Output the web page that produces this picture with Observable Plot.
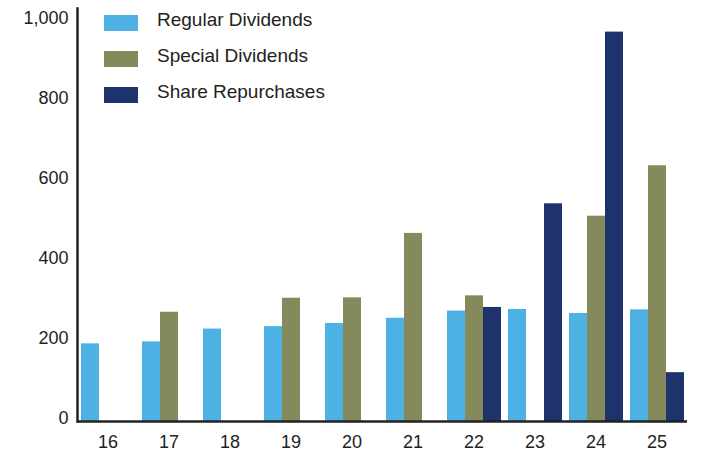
<!DOCTYPE html>
<html>
<head>
<meta charset="utf-8">
<script src="https://cdn.jsdelivr.net/npm/d3@7"></script>
<script src="https://cdn.jsdelivr.net/npm/@observablehq/plot@0.6"></script>
<style>
  html, body { margin: 0; padding: 0; background: #fff; }
  #wrap { position: relative; width: 701px; height: 454px; font-family: "Liberation Sans", Arial, sans-serif; color: #222; }
  #legend { position: absolute; left: 0; top: 0; }
  .swatch { position: absolute; width: 34px; height: 16px; }
  .ltext { position: absolute; font-size: 19px; line-height: 16px; white-space: nowrap; color: #222; }
</style>
</head>
<body>
<div id="wrap"><div id="legend"></div></div>
<script>
// ---- data ----
const years = ["16", "17", "18", "19", "20", "21", "22", "23", "24", "25"];
const series = ["Regular Dividends", "Special Dividends", "Share Repurchases"];
const colors = ["#4EB1E4", "#848A5C", "#1E326C"];
const regular = [194, 199, 231, 237, 245, 258, 276, 280, 270, 279];
const special = [null, 273, null, 308, 309, 470, 314, null, 513, 639];
const repurchases = [null, null, null, null, null, null, 285, 544, 973, 122];
const yTicks = [0, 200, 400, 600, 800, 1000];

const valuesBySeries = [regular, special, repurchases];
const rows = [];
years.forEach((year, i) => {
  series.forEach((s, j) => {
    const v = valuesBySeries[j][i];
    if (v != null) rows.push({ year, series: s, value: v });
  });
});

const chart = Plot.plot({
  width: 701,
  height: 454,
  marginLeft: 72,
  marginRight: 10,
  marginTop: 8,
  marginBottom: 33,
  style: { fontFamily: '"Liberation Sans", Arial, sans-serif', fontSize: "18px", color: "#222", background: "#fff" },
  fx: { domain: years, padding: 0, label: null },
  x: { domain: series, paddingInner: 0, paddingOuter: 0.12, axis: null },
  y: { domain: [0, 1032] },
  color: { domain: series, range: colors },
  marks: [
    Plot.barY(rows, { fx: "year", x: "series", y: "value", fill: "series" }),
    Plot.ruleY([0], { stroke: "#222", strokeWidth: 2.5 }),
    Plot.frame({ anchor: "left", facetAnchor: "left", stroke: "#222", strokeWidth: 2.5 }),
    Plot.axisY(yTicks, { tickSize: 0, tickPadding: 9, tickFormat: d3.format(","), fontSize: 18, dy: -3, label: null }),
    Plot.axisFx({ anchor: "bottom", tickSize: 0, tickPadding: 14, fontSize: 18, label: null })
  ]
});

const wrap = document.getElementById("wrap");
wrap.insertBefore(chart, wrap.firstChild);

// ---- legend ----
const legend = d3.select("#legend");
series.forEach((s, i) => {
  const top = 14.7 + i * 36;
  legend.append("div").attr("class", "swatch")
    .style("left", "103.5px").style("top", top + "px").style("background", colors[i]);
  legend.append("div").attr("class", "ltext")
    .style("left", "157px").style("top", (top - 2.5) + "px").text(s);
});
</script>
</body>
</html>
